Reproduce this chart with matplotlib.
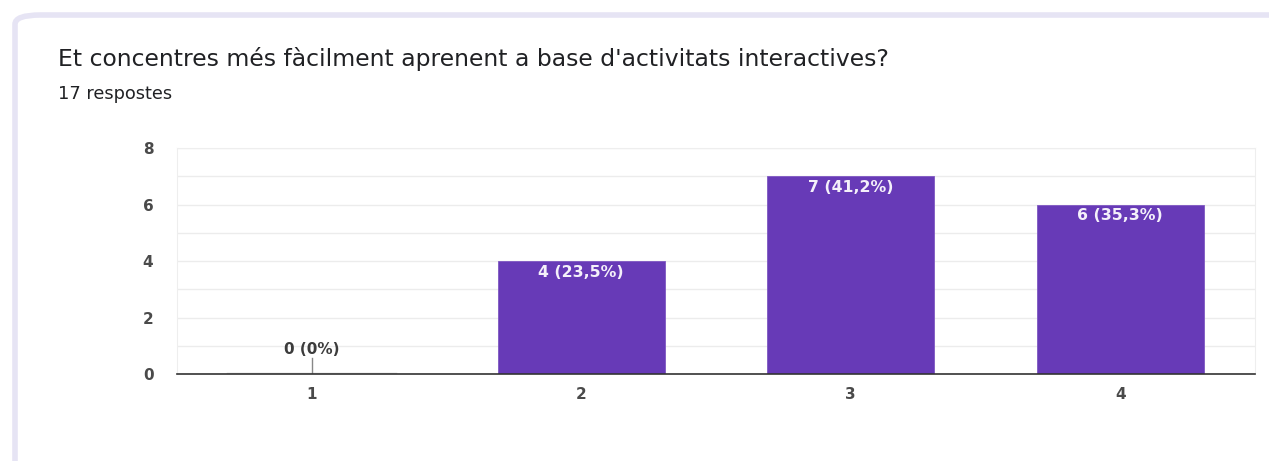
import matplotlib.pyplot as plt
from matplotlib.patches import FancyBboxPatch

# Survey answers: scale value and number of responses
categories = ["1", "2", "3", "4"]
counts = [0, 4, 7, 6]
percent_labels = ["0%", "23,5%", "41,2%", "35,3%"]
title = "Et concentres més fàcilment aprenent a base d'activitats interactives?"
subtitle = "17 respostes"
y_ticks = [0, 2, 4, 6, 8]

W, H = 1269, 461
fig = plt.figure(figsize=(W / 100, H / 100), dpi=100)
fig.patch.set_facecolor("white")

# card background with lavender edge
card = FancyBboxPatch((15 / W, -0.2), 1.2, (H - 15) / H + 0.2,
                      boxstyle="round,pad=0,rounding_size=0.02",
                      transform=fig.transFigure, facecolor="white",
                      edgecolor="#e6e4f4", linewidth=4, zorder=-5)
fig.patches.append(card)

font = "DejaVu Sans"
text_color = "#202124"
fig.text(58 / W, 1 - 59 / H, title, fontsize=16.9, color=text_color,
         family=font, va="center", ha="left")
fig.text(58 / W, 1 - 94 / H, subtitle, fontsize=12.8, color=text_color,
         family=font, va="center", ha="left")

ax = fig.add_axes([177 / W, 1 - 374 / H, (1255 - 177) / W, (374 - 148) / H])
x = list(range(1, len(categories) + 1))
bar_color = "#673ab7"
ax.bar(x, counts, width=0.62, color=bar_color, edgecolor="#7e57c2",
       linewidth=0.6, zorder=3)

# zero-height bar shows as a faint line at the base
for xi, c in zip(x, counts):
    if c == 0:
        ax.plot([xi - 0.31, xi + 0.31], [0, 0], color="#d0d0d0", lw=2.5, zorder=3)

ax.set_xlim(0.5, 4.5)
ax.set_ylim(0, 8)
ax.set_yticks(y_ticks)
ax.set_yticks(range(0, 9), minor=True)
ax.set_xticks(x)
ax.set_xticklabels(categories)
ax.grid(True, which="both", axis="y", color="#ececec", lw=1, zorder=0)
ax.tick_params(axis="both", which="both", length=0, labelsize=11,
               colors="#4a4a4a")
ax.tick_params(axis="x", pad=9)
ax.tick_params(axis="y", pad=17)
for lab in ax.get_xticklabels() + ax.get_yticklabels():
    lab.set_family(font)
    lab.set_fontweight("semibold")

for side in ["top", "left", "right"]:
    ax.spines[side].set_color("#eeeeee")
ax.spines["bottom"].set_color("#333333")
ax.spines["bottom"].set_linewidth(1.2)
ax.spines["bottom"].set_zorder(4)

# value labels
for xi, c, p in zip(x, counts, percent_labels):
    label = f"{c} ({p})"
    if c == 0:
        ax.plot([xi, xi], [0, 0.55], color="#888888", lw=1, zorder=4)
        ax.text(xi, 0.6, label, ha="center", va="bottom", fontsize=11,
                color="#3c3c3c", family=font, fontweight="bold")
    else:
        ax.text(xi, c - 0.14, label, ha="center", va="top", fontsize=11.3,
                color="#f4f0fa", family=font, fontweight="bold", zorder=5)

fig.savefig("out.png", dpi=100)
